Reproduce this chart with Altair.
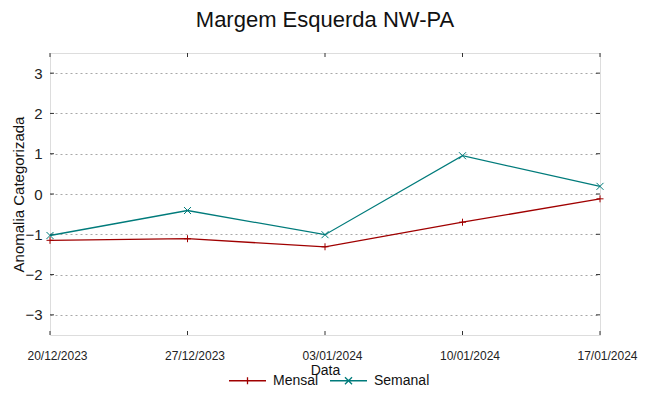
import altair as alt
import pandas as pd

# ---- data ----
dates = ["20/12/2023", "27/12/2023", "03/01/2024", "10/01/2024", "17/01/2024"]
mensal = [-1.15, -1.11, -1.31, -0.70, -0.12]
semanal = [-1.03, -0.41, -1.01, 0.95, 0.19]
series = ["Mensal", "Semanal"]
colors = ["#a00000", "#007b7b"]
y_ticks = [-3, -2, -1, 0, 1, 2, 3]

# marker glyphs (style): '+' for Mensal, 'x' for Semanal
marker_paths = ["M-1,0L1,0M0,-1L0,1", "M-1,-1L1,1M-1,1L1,-1"]
legend_paths = ["M-1,0L1,0M0,-0.19L0,0.19",
                "M-1,0L1,0M-0.19,-0.19L0.19,0.19M-0.19,0.19L0.19,-0.19"]

W, H = 550, 282
FONT = "Liberation Sans"
TICK = 4

df = pd.DataFrame({
    "Data": dates * 2,
    "valor": mensal + semanal,
    "serie": [series[0]] * len(dates) + [series[1]] * len(dates),
})
yt = pd.DataFrame({"valor": y_ticks})
xt = pd.DataFrame({"Data": dates})

x_enc = alt.X(
    "Data:O", sort=dates,
    scale=alt.Scale(type="point", padding=0),
    axis=alt.Axis(
        title="Data", labelAngle=0, tickSize=0, domain=False, grid=False,
        labelFont=FONT, labelFontSize=12, labelAlign="center", labelBaseline="top",
        labelColor="#222", labelPadding=15, labelOffset=7,
        titleFont=FONT, titleFontSize=14, titleFontWeight="normal", titleColor="#111",
        titleY=35, titleBaseline="middle",
    ),
)
y_enc = alt.Y(
    "valor:Q",
    scale=alt.Scale(domain=[-3.5, 3.5], nice=False, zero=False),
    axis=alt.Axis(
        values=y_ticks, title="Anomalia Categorizada", tickSize=0, domain=False,
        grid=True, gridDash=[2, 3], gridColor="#a8a8a8", gridWidth=1,
        labelFont=FONT, labelFontSize=15, labelColor="#222", labelPadding=8,
        titleFont=FONT, titleFontSize=15, titleFontWeight="normal", titleColor="#111",
        titleX=-32, titleY=H / 2, titleAngle=270, titleAlign="center", titleBaseline="middle",
    ),
)

color_scale = alt.Scale(domain=series, range=colors)

leg = alt.Legend(
    title=None, orient="none", legendX=178, legendY=308, direction="horizontal",
    labelFont=FONT, labelFontSize=14, labelColor="#111",
    symbolSize=1369, symbolStrokeWidth=1.3,
    labelAlign="left", labelOffset=6, columnPadding=8,
)
color_enc = alt.Color("serie:N", scale=color_scale, legend=leg)

lines = alt.Chart(df).mark_line(strokeWidth=1.3).encode(x=x_enc, y=y_enc, color=color_enc)

point_layers = [
    alt.Chart(df).transform_filter(alt.datum.serie == s).mark_point(
        shape=p, filled=False, strokeWidth=1, size=49, opacity=1
    ).encode(x=x_enc, y=y_enc, color=color_enc)
    for s, p in zip(series, marker_paths)
]

legend_layer = alt.Chart(df).transform_filter("false").mark_point(
    filled=False, strokeWidth=1.3, opacity=1
).encode(
    x=x_enc, y=y_enc, color=color_enc,
    shape=alt.Shape("serie:N", scale=alt.Scale(domain=series, range=legend_paths), legend=leg),
)

tick_color = "#333"
left_ticks = alt.Chart(yt).mark_rule(color=tick_color, strokeWidth=1).encode(
    y="valor:Q", x=alt.value(0), x2=alt.value(TICK))
right_ticks = alt.Chart(yt).mark_rule(color=tick_color, strokeWidth=1).encode(
    y="valor:Q", x=alt.value(W - TICK), x2=alt.value(W))
bottom_ticks = alt.Chart(xt).mark_rule(color=tick_color, strokeWidth=1).encode(
    x=alt.X("Data:O", sort=dates), y=alt.value(H - TICK), y2=alt.value(H))
top_ticks = alt.Chart(xt).mark_rule(color=tick_color, strokeWidth=1).encode(
    x=alt.X("Data:O", sort=dates), y=alt.value(0), y2=alt.value(TICK))

chart = alt.layer(
    left_ticks, right_ticks, bottom_ticks, top_ticks, lines, *point_layers, legend_layer
).properties(
    width=W, height=H,
    title=alt.Title("Margem Esquerda NW-PA", font=FONT, fontSize=22, fontWeight="normal",
                    color="#111", anchor="middle", baseline="alphabetic", offset=4),
    autosize=alt.AutoSizeParams(type="none"),
    padding={"left": 42, "top": 45, "right": 41, "bottom": 53},
).configure_view(
    stroke="#555", strokeWidth=1.5
).configure(background="white")

chart.save("out.html", embed_options={"renderer": "svg", "actions": False})
